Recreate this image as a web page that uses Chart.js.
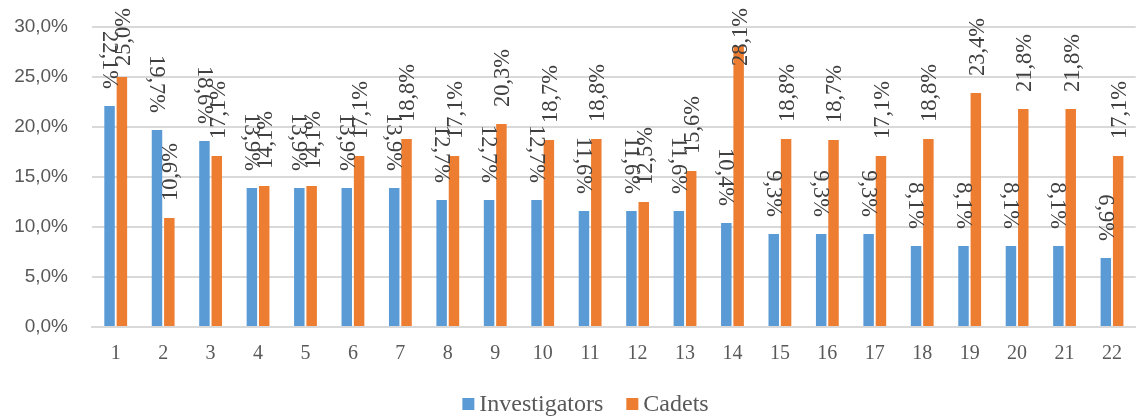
<!DOCTYPE html>
<html>
<head>
<meta charset="utf-8">
<script src="https://cdn.jsdelivr.net/npm/chart.js@4.4.1/dist/chart.umd.min.js"></script>
<style>
  html, body { margin: 0; padding: 0; background: #fff; }
  #wrap { width: 1137px; height: 419px; position: relative; }
</style>
</head>
<body>
<div id="wrap"><canvas id="chart"></canvas></div>
<script>
// categories and values
const categories = ["1","2","3","4","5","6","7","8","9","10","11","12","13","14","15","16","17","18","19","20","21","22"];
const investigators = [22.1,19.7,18.6,13.9,13.9,13.9,13.9,12.7,12.7,12.7,11.6,11.6,11.6,10.4,9.3,9.3,9.3,8.1,8.1,8.1,8.1,6.9];
const cadets = [25.0,10.9,17.1,14.1,14.1,17.1,18.8,17.1,20.3,18.7,18.8,12.5,15.6,28.1,18.8,18.7,17.1,18.8,23.4,21.8,21.8,17.1];
const yTicks = [0,5,10,15,20,25,30];

const serif = '"Liberation Serif", "Times New Roman", serif';
const sans = '"Liberation Sans", Arial, sans-serif';

function pct(v){
    return v.toFixed(1).replace('.', ',') + '%';
}

// rotated value labels above each bar
const barLabels = {
    id: 'barLabels',
    afterDatasetsDraw(chart){
        const ctx = chart.ctx;
        const gap = 17;
        const topLimit = 8;
        ctx.save();
        ctx.font = '22.5px ' + serif;
        ctx.fillStyle = '#404040';
        ctx.textBaseline = 'middle';
        chart.data.datasets.forEach((ds, i) => {
            const meta = chart.getDatasetMeta(i);
            meta.data.forEach((bar, j) => {
                const text = pct(ds.data[j]);
                const w = ctx.measureText(text).width;
                let anchor = bar.y - gap;
                if(anchor - w < topLimit) anchor = topLimit + w;
                ctx.save();
                if(i === 0){
                    ctx.translate(bar.x - 1, anchor);
                    ctx.rotate(Math.PI / 2);
                    ctx.textAlign = 'right';
                } else {
                    ctx.translate(bar.x + 2, anchor);
                    ctx.rotate(-Math.PI / 2);
                    ctx.textAlign = 'left';
                }
                ctx.fillText(text, 0, 0);
                ctx.restore();
            });
        });
        ctx.restore();
    }
};

// legend at the bottom, Excel style (small square, tight gap)
const bottomLegend = {
    id: 'bottomLegend',
    afterDraw(chart){
        const ctx = chart.ctx;
        const box = 12, boxGap = 5, itemGap = 23;
        ctx.save();
        ctx.font = '24px ' + serif;
        ctx.textBaseline = 'middle';
        const items = chart.data.datasets.map(ds => ({
            text: ds.label,
            color: ds.backgroundColor,
            w: box + boxGap + ctx.measureText(ds.label).width
        }));
        const total = items.reduce((s, it) => s + it.w, 0) + itemGap * (items.length - 1);
        let x = (chart.width - total) / 2 + 17;
        const y = 404;
        items.forEach(it => {
            ctx.fillStyle = it.color;
            ctx.fillRect(x, y - box / 2, box, box);
            ctx.fillStyle = '#595959';
            ctx.textAlign = 'left';
            ctx.fillText(it.text, x + box + boxGap, y + 1);
            x += it.w + itemGap;
        });
        ctx.restore();
    }
};

const config = {
    type: 'bar',
    data: {
        labels: categories,
        datasets: [{
            label: 'Investigators',
            data: investigators,
            backgroundColor: '#5B9BD5',
            borderWidth: 0,
            barPercentage: 0.85,
            categoryPercentage: 0.52
        }, {
            label: 'Cadets',
            data: cadets,
            backgroundColor: '#ED7D31',
            borderWidth: 0,
            barPercentage: 0.85,
            categoryPercentage: 0.52
        }]
    },
    options: {
        responsive: true,
        maintainAspectRatio: false,
        animation: false,
        layout: { padding: { top: 27, right: 0, left: 0, bottom: 45 } },
        plugins: {
            tooltip: { enabled: false },
            legend: { display: false }
        },
        scales: {
            x: {
                afterFit(axis){ axis.height = 47; },
                grid: { display: false, drawTicks: false },
                border: { color: '#D9D9D9', width: 2 },
                ticks: {
                    color: '#595959',
                    padding: 15,
                    font: { family: serif, size: 20 }
                }
            },
            y: {
                min: 0,
                max: 30,
                afterBuildTicks(axis){
                    axis.ticks = yTicks.map(v => ({ value: v }));
                },
                afterFit(axis){
                    axis.width = 92;
                    axis.paddingTop = 0;
                    axis.paddingBottom = 0;
                },
                grid: { color: '#D9D9D9', lineWidth: 2, drawTicks: false },
                border: { display: false },
                ticks: {
                    color: '#595959',
                    padding: 24,
                    font: { family: sans, size: 19 },
                    callback: v => pct(v)
                }
            }
        }
    },
    plugins: [barLabels, bottomLegend]
};

new Chart(document.getElementById('chart'), config);
</script>
</body>
</html>
